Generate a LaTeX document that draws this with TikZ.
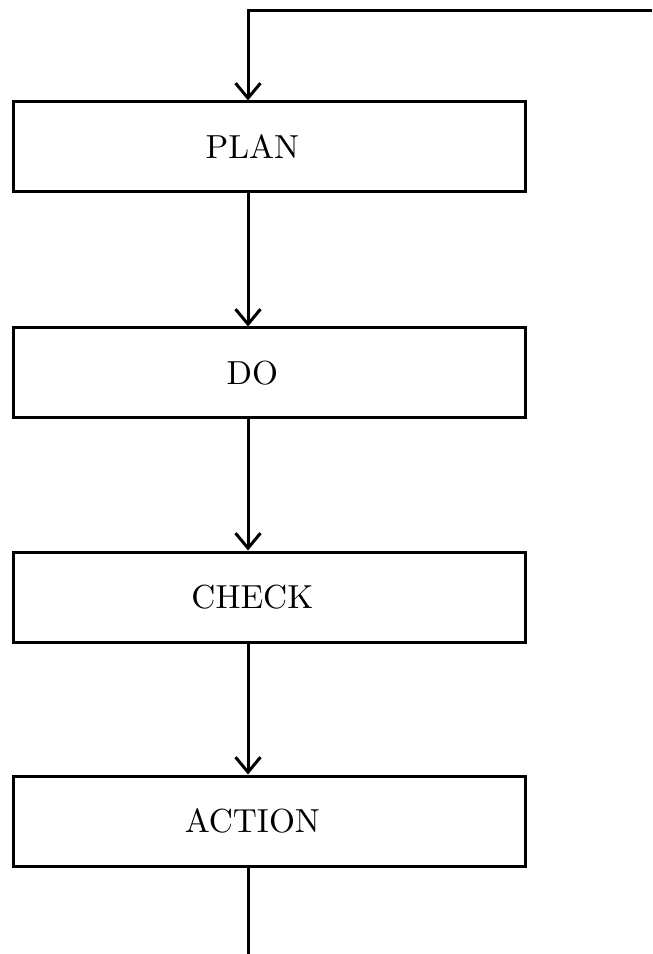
\documentclass[tikz,border=0pt]{standalone}
\usetikzlibrary{arrows.meta}
\tikzset{
  stagebox/.style={draw, line width=0.9pt, minimum width=153.6pt, minimum height=27pt,
    inner sep=0pt, execute at begin node={\hspace*{-10pt}}},
  flow/.style={line width=0.9pt, -{Straight Barb[length=4.5pt,width=7.5pt]}}
}
\begin{document}
\begin{tikzpicture}[x=0.3pt,y=-0.3pt]
\useasboundingbox (0,0) rectangle (652,954);
\node[stagebox] (plan) at (269,147) {PLAN};
\node[stagebox] (do) at (269,373) {DO};
\node[stagebox] (check) at (269,597) {CHECK};
\node[stagebox] (action) at (269,821) {ACTION};
\coordinate (axis) at (248,0);
\coordinate (loop) at (652,11);
\coordinate (out) at (248,954);
% feedback from the right edge
\draw[flow] (loop) -| (plan.north -| axis);
\draw[flow] (plan.south -| axis) -- (do.north -| axis);
\draw[flow] (do.south -| axis) -- (check.north -| axis);
\draw[flow] (check.south -| axis) -- (action.north -| axis);
\draw[line width=0.9pt] (action.south -| axis) -- (out);
\end{tikzpicture}
\end{document}
